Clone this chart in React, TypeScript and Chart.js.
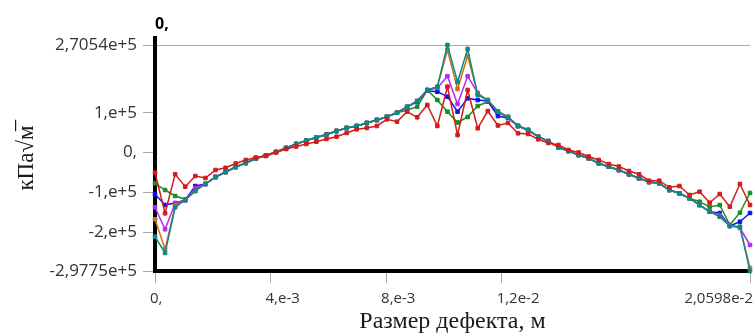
import React, { useEffect, useRef } from "react";
import { Chart, registerables } from "chart.js";

Chart.register(...registerables);

// Crack-front coordinate, m
const xValues = [
  0, 0.000349, 0.000698, 0.001047, 0.001396, 0.001746, 0.002095, 0.002444, 0.002793, 0.003142,
  0.003491, 0.00384, 0.004189, 0.004539, 0.004888, 0.005237, 0.005586, 0.005935, 0.006284, 0.006633,
  0.006982, 0.007331, 0.007681, 0.00803, 0.008379, 0.008728, 0.009077, 0.009426, 0.009775, 0.010124,
  0.010474, 0.010823, 0.011172, 0.011521, 0.01187, 0.012219, 0.012568, 0.012917, 0.013266, 0.013616,
  0.013965, 0.014314, 0.014663, 0.015012, 0.015361, 0.01571, 0.016059, 0.016409, 0.016758, 0.017107,
  0.017456, 0.017805, 0.018154, 0.018503, 0.018852, 0.019201, 0.019551, 0.0199, 0.020249, 0.020598,
];

const seriesRed = [
  -50570, -152650, -54590, -85770, -58860, -63890, -43780, -38240, -27430, -18630,
  -12340, -8570, 230, 9030, 15310, 21600, 27390, 34180, 39960, 49270,
  58570, 61840, 66870, 83710, 77680, 102820, 88740, 119670, 66870, 165680,
  44230, 157390, 61090, 104580, 68120, 74410, 48520, 46760, 33430, 24120,
  19090, 6510, 230, -9830, -18630, -28690, -34970, -46290, -54590, -70680,
  -70680, -87280, -84010, -106640, -98340, -126010, -104120, -136060, -78980, -131790,
];

const seriesTeal = [
  -211500, -252480, -137570, -119220, -96580, -78980, -61380, -48800, -36230, -26170,
  -14860, -7310, 1490, 11540, 21600, 30410, 37950, 45490, 54290, 61840,
  66870, 74410, 81950, 90250, 100310, 114640, 129730, 157390, 165680, 270540,
  177500, 260480, 144800, 132240, 103330, 89500, 66870, 56800, 39960, 28900,
  13000, 4000, -6060, -14350, -26930, -35480, -43780, -54590, -64640, -73950,
  -77220, -94070, -102360, -114940, -131790, -148630, -161210, -184600, -186360, -297750,
];

const seriesOrange = [
  -167740, -243170, -134300, -119220, -96580, -78980, -61380, -48800, -36230, -26170,
  -14860, -7310, 1490, 11540, 21600, 30410, 37950, 45490, 54290, 61840,
  66870, 74410, 81950, 90250, 100310, 114640, 129730, 157390, 164930, 257970,
  159900, 242880, 147330, 132240, 103330, 89500, 66870, 56800, 39960, 28900,
  13000, 4000, -6060, -14350, -26930, -35480, -43780, -54590, -64640, -73950,
  -77220, -94070, -102360, -114940, -131790, -148630, -161210, -184600, -187110, -290200,
];

const seriesMagenta = [
  -137570, -192900, -127500, -120480, -89040, -78980, -61380, -48800, -36230, -26170,
  -14860, -7310, 1490, 11540, 21600, 30410, 37950, 45490, 54290, 61840,
  66870, 74410, 81950, 90250, 100310, 114640, 129730, 157390, 162420, 192000,
  122180, 192000, 149850, 130990, 103330, 89500, 66870, 56800, 39960, 28900,
  13000, 4000, -6060, -14350, -26930, -35480, -43780, -54590, -64640, -73950,
  -77220, -94070, -102360, -114940, -131790, -148630, -156930, -182080, -189630, -232360,
];

const seriesBlue = [
  -104880, -131790, -126760, -119220, -84010, -78980, -61380, -48800, -36230, -26170,
  -14860, -7310, 1490, 11540, 21600, 30410, 37950, 45490, 54290, 61840,
  66870, 74410, 81950, 90250, 100310, 115400, 127210, 155630, 153110, 140540,
  102820, 136520, 132240, 129730, 91780, 86970, 66870, 56800, 39960, 28900,
  13000, 4000, -6060, -14350, -26930, -35480, -43780, -54590, -64640, -73950,
  -77220, -94070, -102360, -114940, -131790, -148630, -151900, -184600, -173780, -151900,
];

const seriesGreen = [
  -77220, -94070, -109150, -117460, -91550, -78980, -61380, -48800, -36230, -26170,
  -14860, -7310, 1490, 11540, 21600, 30410, 37950, 45490, 54290, 61840,
  66870, 74410, 81950, 90250, 100310, 107100, 115390, 157390, 132240, 102820,
  75670, 89500, 117150, 127970, 100310, 89500, 66870, 56800, 39960, 28900,
  13000, 4000, -6060, -14350, -26930, -35480, -43780, -54590, -64640, -73950,
  -77220, -94070, -102360, -114940, -123490, -136810, -131790, -182080, -151150, -101610,
];

const yTickValues = [270540, 100000, 0, -100000, -200000, -297750];
const yTickLabels = ["2,7054e+5", "1,e+5", "0,", "-1,e+5", "-2,e+5", "-2,9775e+5"];
const xTickValues = [0, 0.004, 0.008, 0.012, 0.020598];
const xTickLabels = ["0,", "4,e-3", "8,e-3", "1,2e-2", "2,0598e-2"];

const COLORS = {
  red: "#d41a1a",
  teal: "#0a8a8a",
  orange: "#d2701a",
  magenta: "#b42cf0",
  blue: "#1010e6",
  green: "#14901e",
};

export default function App() {
  const canvasRef = useRef<HTMLCanvasElement | null>(null);

  useEffect(() => {
    const canvas = canvasRef.current;
    if (!canvas) return;

    const mk = (data: number[], color: string) => ({
      data: xValues.map((x, i) => ({ x, y: data[i] })),
      borderColor: color,
      backgroundColor: color,
      borderWidth: 1.5,
      pointStyle: "rect" as const,
      pointRadius: 2.5,
      pointBorderWidth: 1,
      pointBackgroundColor: color,
      pointBorderColor: color,
      tension: 0,
      clip: false as const,
    });

    const framePlugin = {
      id: "frame",
      beforeDatasetsDraw(chart: any) {
        const { ctx, chartArea } = chart;
        const { left, right, top, bottom } = chartArea;
        ctx.save();
        ctx.strokeStyle = "#a8a8a8";
        ctx.lineWidth = 1;
        ctx.beginPath();
        ctx.moveTo(left, Math.round(top) + 0.5);
        ctx.lineTo(right, Math.round(top) + 0.5);
        ctx.stroke();
        ctx.strokeStyle = "#000";
        ctx.lineWidth = 4;
        ctx.beginPath();
        ctx.moveTo(left, top - 9);
        ctx.lineTo(left, bottom + 2);
        ctx.stroke();
        ctx.beginPath();
        ctx.moveTo(left - 2, bottom);
        ctx.lineTo(right, bottom);
        ctx.stroke();
        ctx.restore();
      },
      afterDraw(chart: any) {
        const { ctx } = chart;
        const xs = chart.scales.x;
        ctx.save();
        ctx.font = '15px "Open Sans"';
        ctx.fillStyle = "#333";
        ctx.textBaseline = "middle";
        ctx.textAlign = "left";
        xs.ticks.forEach((t: any) => {
          const idx = xTickValues.indexOf(t.value);
          if (idx < 0) return;
          const label = xTickLabels[idx];
          const px = xs.getPixelForValue(t.value);
          const w = ctx.measureText(label).width;
          let x = px - 5;
          if (x + w > chart.width - 2) x = chart.width - 2 - w;
          ctx.fillText(label, x, xs.top + 28);
        });
        ctx.restore();
      },
    };

    const chart = new Chart(canvas, {
      type: "line",
      data: {
        datasets: [
          mk(seriesRed, COLORS.red),
          mk(seriesTeal, COLORS.teal),
          mk(seriesOrange, COLORS.orange),
          mk(seriesMagenta, COLORS.magenta),
          mk(seriesBlue, COLORS.blue),
          mk(seriesGreen, COLORS.green),
        ],
      },
      options: {
        responsive: false,
        animation: false,
        devicePixelRatio: 1,
        layout: { padding: 0 },
        plugins: {
          legend: { display: false },
          tooltip: { enabled: false },
          title: {
            display: true,
            text: "0,",
            align: "start",
            fullSize: false,
            color: "#000",
            font: { family: "Open Sans", size: 16, weight: "bold" },
            padding: { top: 14.4, bottom: 11.4 },
          },
        },
        scales: {
          x: {
            type: "linear",
            min: 0,
            max: 0.020598,
            afterBuildTicks: (scale: any) => {
              scale.ticks = xTickValues.map((v) => ({ value: v }));
            },
            afterFit: (scale: any) => {
              scale.height = 65;
              scale.paddingLeft = 0;
              scale.paddingRight = 0;
            },
            border: { display: false },
            grid: {
              drawOnChartArea: false,
              drawTicks: true,
              tickLength: 12,
              tickColor: "#a8a8a8",
            },
            ticks: { display: false },
            title: {
              display: true,
              text: "Размер дефекта, м",
              color: "#1a1a1a",
              font: { family: "Liberation Serif", size: 24 },
              padding: { top: 0, bottom: 0 },
            },
          },
          y: {
            type: "linear",
            min: -297750,
            max: 270540,
            afterBuildTicks: (scale: any) => {
              scale.ticks = yTickValues.map((v) => ({ value: v }));
            },
            afterFit: (scale: any) => {
              scale.width = 155;
            },
            border: { display: false },
            grid: {
              drawOnChartArea: false,
              drawTicks: true,
              tickLength: 12,
              tickColor: "#a8a8a8",
            },
            ticks: {
              color: "#333",
              padding: 6,
              font: { family: "Open Sans", size: 17 },
              callback: (value: any) => {
                const i = yTickValues.indexOf(Number(value));
                return i >= 0 ? yTickLabels[i] : "";
              },
            },
            title: {
              display: true,
              text: "кПа√м̅",
              color: "#1a1a1a",
              font: { family: "Liberation Serif", size: 23 },
              padding: { top: 13.2, bottom: 0 },
            },
          },
        },
      },
      plugins: [framePlugin],
    } as any);

    return () => chart.destroy();
  }, []);

  return (
    <div style={{ position: "absolute", left: 0, top: 0, width: 755, height: 336 }}>
      <canvas ref={canvasRef} width={755} height={336} />
    </div>
  );
}
